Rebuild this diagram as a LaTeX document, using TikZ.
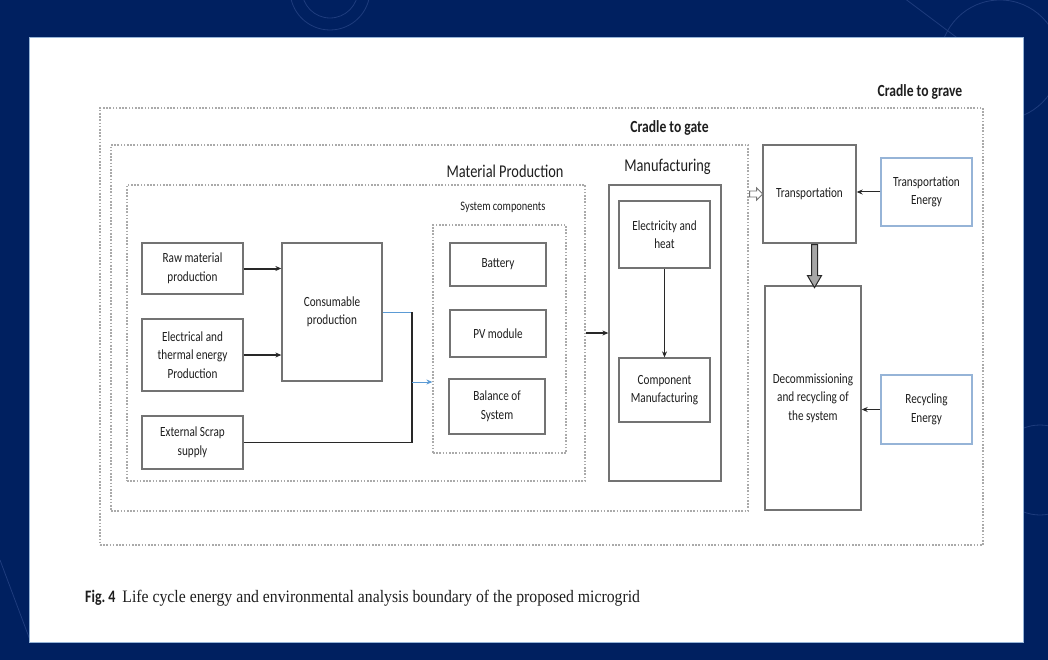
\documentclass[tikz,border=0pt]{standalone}
\usepackage{fontspec}
\setmainfont{Carlito}[FakeStretch=0.8]
\newfontfamily\capfont{Liberation Serif}[FakeStretch=0.9]
\usetikzlibrary{arrows.meta,calc}
\definecolor{navy}{RGB}{0,32,96}
\definecolor{navyl}{RGB}{30,60,125}
\definecolor{boxline}{RGB}{115,115,115}
\definecolor{darkline}{RGB}{40,40,40}
\definecolor{dotline}{RGB}{170,170,170}
\definecolor{txt}{RGB}{30,30,30}
\definecolor{lblue}{RGB}{150,180,215}
\definecolor{ablue}{RGB}{91,155,213}
\begin{document}
\begin{tikzpicture}[x=1pt,y=-1pt,
  box/.style={draw=boxline, line width=1.3pt, fill=white, text=txt, align=center, inner sep=0pt, font=\fontsize{14}{18.5}\selectfont},
  ebox/.style={box, draw=lblue},
  zone/.style={draw=dotline, line width=1.3pt, dash pattern=on 1.6pt off 1.6pt, inner sep=0pt},
  lbl/.style={text=txt, inner sep=0pt},
  arr/.style={draw=darkline, line width=1pt, -{Stealth[length=6pt,width=5pt]}},
  thickarr/.style={arr, line width=2pt},
  thinarr/.style={arr, line width=0.8pt},
  collector/.style={draw=darkline, line width=1.8pt},
  blueline/.style={draw=ablue, line width=1pt},
  bluearr/.style={draw=ablue, line width=1pt, -{Stealth[length=6pt,width=5pt]}},
]
\useasboundingbox (0,0) rectangle (1048,660);
% background
\fill[navy] (0,0) rectangle (1048,660);
\begin{scope}
  \clip (0,0) rectangle (1048,660);
  \begin{scope}[draw=navyl, line width=0.8pt]
    \draw (330,-10) circle[radius=28];
    \draw (330,-10) circle[radius=40];
    \draw (1000,60) circle[radius=60];
    \draw (1040,470) circle[radius=45];
    \draw (900,-5) -- (960,40);
    \draw (0,560) -- (30,640);
  \end{scope}
\end{scope}
\fill[white] (29,37) rectangle (1023,642);
\draw[lblue, line width=0.8pt] (29,37) rectangle (1023,642);

% zones
\node[zone, minimum width=883, minimum height=437] (grave) at (541.5,326.5) {};
\node[zone, minimum width=637, minimum height=366] (gate) at (429.5,328) {};
\node[zone, minimum width=458, minimum height=296] (matprod) at (356,333) {};
\node[zone, minimum width=133, minimum height=228] (syscomp) at (499.5,339) {};
\node[lbl, font=\bfseries\fontsize{17}{20}\selectfont] (gravelbl) at (920,92) {Cradle to grave};
\node[lbl, font=\bfseries\fontsize{17}{20}\selectfont] (gatelbl) at (669.5,128) {Cradle to gate};
\node[lbl, font=\fontsize{18}{20}\selectfont] (matlbl) at (505,171) {Material Production};
\node[lbl, font=\fontsize{13}{15}\selectfont] (syslbl) at (503,207) {System components};
\node[lbl, font=\fontsize{18}{20}\selectfont] (manlbl) at (667.5,167) {Manufacturing};

% boxes
\node[box, minimum width=101, minimum height=51] (raw) at (192.5,268.5) {Raw material\\production};
\node[box, minimum width=101, minimum height=72] (elec) at (192.5,355) {Electrical and\\thermal energy\\Production};
\node[box, minimum width=101, minimum height=53] (scrap) at (192.5,442.5) {External Scrap\\supply};
\node[box, minimum width=100, minimum height=138] (cons) at (332,312) {Consumable\\production};
\node[box, minimum width=96, minimum height=43] (battery) at (498,264.5) {Battery};
\node[box, minimum width=96, minimum height=47] (pv) at (498,333.5) {PV module};
\node[box, minimum width=96, minimum height=55] (bos) at (497,406.5) {Balance of\\System};
\node[box, minimum width=112, minimum height=296] (manuf) at (665,333) {};
\node[box, minimum width=91, minimum height=67] (eh) at (664.5,234.5) {Electricity and\\heat};
\node[box, minimum width=91, minimum height=64] (cm) at (664.5,390) {Component\\Manufacturing};
\node[box, minimum width=93, minimum height=98] (trans) at (809.5,194) {Transportation};
\node[ebox, minimum width=91, minimum height=68] (te) at (926.5,192) {Transportation\\Energy};
\node[box, minimum width=96, minimum height=224] (decom) at (813,398) {Decommissioning\\and recycling of\\the system};
\node[ebox, minimum width=91, minimum height=69] (re) at (926.5,409.5) {Recycling\\Energy};

% connectors
\coordinate (j1) at (412,312);
\coordinate (j2) at (412,442.5);
\coordinate (j3) at (412,382);
\draw[thickarr] (raw.east) -- (raw.east -| cons.west);
\draw[thickarr] (elec.east) -- (elec.east -| cons.west);
\draw[blueline] (cons.east) -- (j1);
\draw[collector] (j1) -- (j2) -- (scrap.east);
\draw[bluearr] (j3) -- (j3 -| syscomp.west);
\draw[thickarr] (matprod.east) -- (manuf.west);
\draw[thinarr] (eh.south) -- (cm.north);
\draw[arr] (te.west) -- (te.west -| trans.east);
\draw[arr] (re.west) -- (re.west -| decom.east);
\coordinate (ha) at (gate.east |- trans.west);
\draw[boxline, fill=white, line width=0.9pt] ($(ha)+(1,-3)$) -- ++(7,0) -- ++(0,-3) -- ++(6,6) -- ++(-6,6) -- ++(0,-3) -- ++(-7,0) -- cycle;
\coordinate (ta) at ($(trans.south)+(5,0)$);
\draw[fill=gray!70, draw=darkline, line width=1pt] ($(ta)+(-3,1)$) -- ++(0,31) -- ++(-4,0) -- ++(7,12) -- ++(7,-12) -- ++(-4,0) -- ++(0,-31) -- cycle;

% caption
\node[lbl, anchor=west] (cap) at (85,598) {{\bfseries\fontsize{17.5}{19}\selectfont Fig.\,4}\hspace{7pt}{\capfont\fontsize{17.5}{19}\selectfont Life cycle energy and environmental analysis boundary of the proposed microgrid}};
\end{tikzpicture}
\end{document}
